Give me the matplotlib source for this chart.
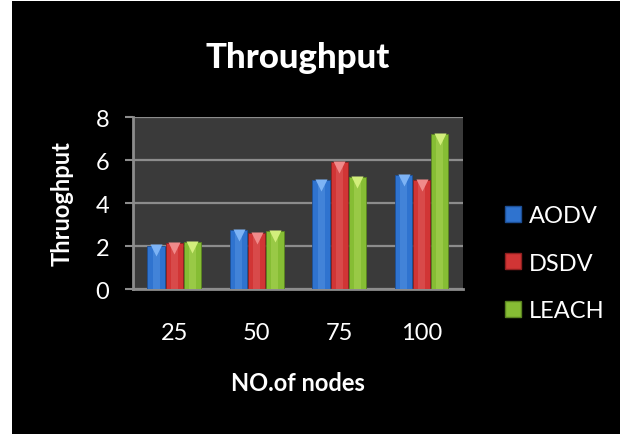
import matplotlib
matplotlib.use("Agg")
import matplotlib.pyplot as plt
from matplotlib.patches import Rectangle, Patch
import numpy as np

plt.rcParams['font.family'] = ['Lato', 'DejaVu Sans']

nodes = ['25', '50', '75', '100']
protocols = ['AODV', 'DSDV', 'LEACH']
aodv = [2.02, 2.75, 5.05, 5.3]
dsdv = [2.13, 2.6, 5.9, 5.08]
leach = [2.17, 2.69, 5.2, 7.19]
series = [aodv, dsdv, leach]

colours = ['#2f73cf', '#d13535', '#86bd34']
tops = ['#7db3f5', '#f08a8a', '#d2ee7c']
edges = ['#1d4f95', '#8f2020', '#5a8420']

fig = plt.figure(figsize=(6.26, 4.35), dpi=100, facecolor='white')
# black panel behind everything
fig.patches.append(Rectangle((12 / 626, 0), 608 / 626, 433 / 435, transform=fig.transFigure,
                             facecolor='black', edgecolor='none', zorder=-10))

ax = fig.add_axes([0.2125, 0.3333, 0.527, 0.3954])
ax.set_facecolor('#3a3a3a')

x = np.arange(len(nodes))
width = 0.21
offsets = [-0.22, 0, 0.22]
for vals, off, c, t, e in zip(series, offsets, colours, tops, edges):
    ax.bar(x + off, vals, width, color=c, edgecolor=e, linewidth=0.6, zorder=3)
    # lighter strip down the middle of each bar
    ax.bar(x + off, vals, width * 0.4, color=t, alpha=0.25, linewidth=0, zorder=3)
    ax.scatter(x + off, np.array(vals) - 0.22, marker='v', s=75, color=t, linewidths=0, zorder=4)

ax.set_xlim(-0.5, 3.5)
ax.set_ylim(0, 8)
ax.set_yticks([0, 2, 4, 6, 8])
ax.set_xticks(x)
ax.set_xticklabels(nodes)
ax.yaxis.grid(True, color='#8c8c8c', linewidth=1.6, zorder=1)
ax.set_axisbelow(True)
for s in ['top', 'right']:
    ax.spines[s].set_visible(False)
for s in ['left', 'bottom']:
    ax.spines[s].set_color('#8c8c8c')
    ax.spines[s].set_linewidth(2)
ax.tick_params(axis='x', length=0, pad=24, labelsize=17, labelcolor='white')
ax.tick_params(axis='y', length=6, width=1.5, color='#8c8c8c', pad=11, labelsize=17, labelcolor='white')

ax.set_title('Throughput', color='white', fontsize=25, fontweight='black', pad=36)
ax.set_ylabel('Thruoghput', color='white', fontsize=17, fontweight='bold', labelpad=16)
ax.set_xlabel('NO.of nodes', color='white', fontsize=17, fontweight='bold', labelpad=20)

handles = [Patch(facecolor=c, edgecolor=e) for c, e in zip(colours, edges)]
leg = fig.legend(handles, protocols, loc='upper left', bbox_to_anchor=(0.772, 0.575),
                 frameon=False, fontsize=17, labelspacing=1.12, handlelength=0.68,
                 handleheight=0.68, handletextpad=0.35)
for txt in leg.get_texts():
    txt.set_color('white')

fig.savefig('out.png', dpi=100, facecolor=fig.get_facecolor())
